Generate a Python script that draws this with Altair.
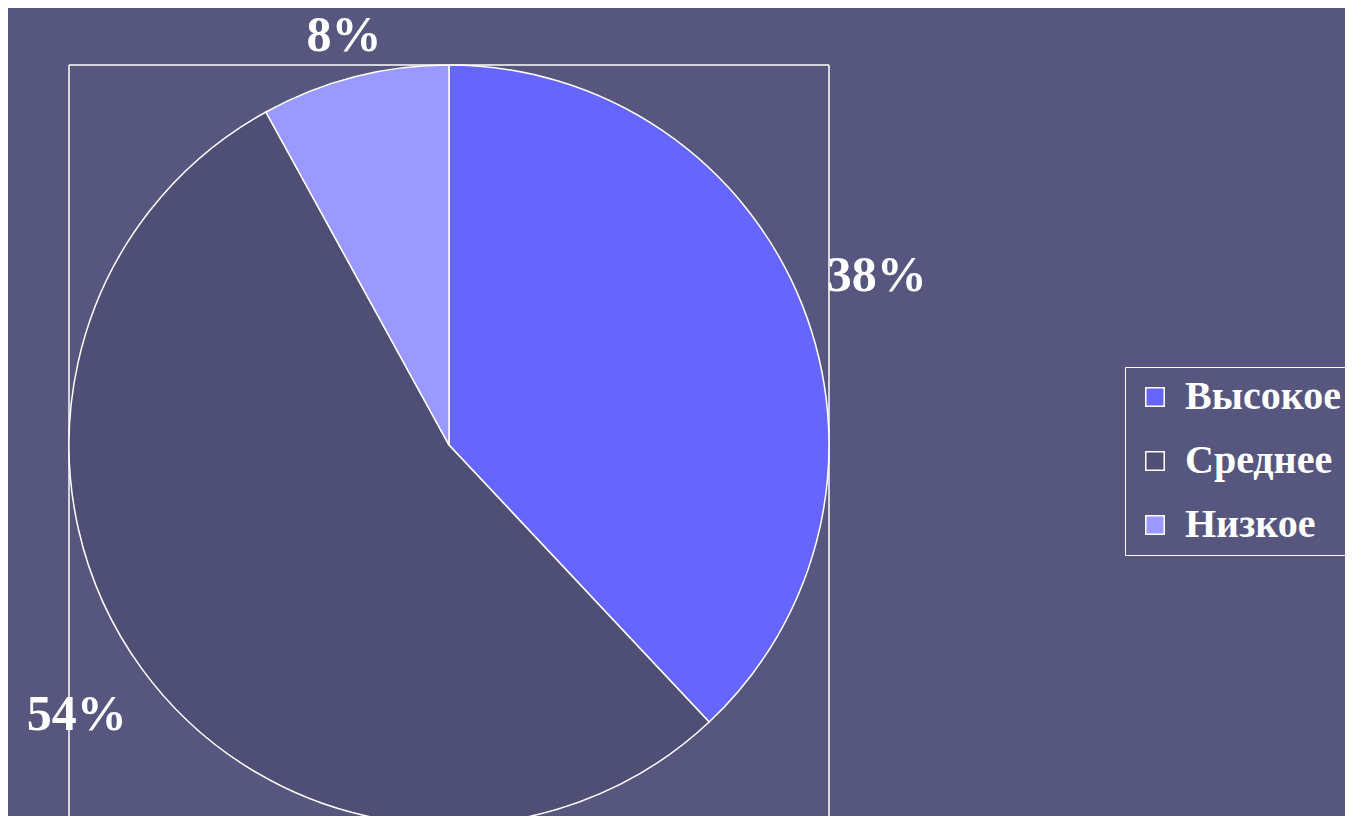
import altair as alt
import pandas as pd

categories = ["Высокое", "Среднее", "Низкое"]
values = [38, 54, 8]
labels = ["38%", "54%", "8%"]
colors = ["#6666ff", "#4f4f76", "#9999ff"]

df = pd.DataFrame({"cat": categories, "value": values, "label": labels,
                   "idx": list(range(len(categories)))})

FONT = "Liberation Serif"

base = alt.Chart(df).encode(
    theta=alt.Theta("value:Q", stack=True),
    order=alt.Order("idx:Q"),
    x=alt.value(380),
    y=alt.value(380),
)

arcs = base.mark_arc(outerRadius=380, stroke="white", strokeWidth=1.5).encode(
    color=alt.Color(
        "cat:N",
        scale=alt.Scale(domain=categories, range=colors),
        legend=alt.Legend(
            title=None, orient="none", legendX=1056, legendY=302,
            direction="vertical", strokeColor="white", fillColor="#56567e",
            padding=10, symbolType="square", symbolSize=340,
            symbolStrokeColor="white", symbolStrokeWidth=1.5,
            labelFont=FONT, labelFontSize=40, labelFontWeight="bold",
            labelColor="white", labelLimit=0, labelOffset=10, rowPadding=24,
        ),
    )
)

text_style = dict(font=FONT, fontSize=50, fontWeight="bold", color="white")
text_top = base.mark_text(radius=422, **text_style).encode(
    text=alt.condition("datum.idx == 2", "label:N", alt.value("")))
text_side = base.mark_text(radius=460, **text_style).encode(
    text=alt.condition("datum.idx != 2", "label:N", alt.value("")))

frame_df = pd.DataFrame({"a": [0]})
frame_left = alt.Chart(frame_df).mark_rule(color="white", strokeWidth=1.5).encode(
    x=alt.value(0), y=alt.value(0), y2=alt.value(770))
frame_right = alt.Chart(frame_df).mark_rule(color="white", strokeWidth=1.5).encode(
    x=alt.value(760), y=alt.value(0), y2=alt.value(770))
frame_top = alt.Chart(frame_df).mark_rule(color="white", strokeWidth=1.5).encode(
    x=alt.value(0), x2=alt.value(760), y=alt.value(0))

chart = alt.layer(frame_left, frame_right, frame_top, arcs, text_top, text_side).properties(
    width=760, height=751,
    autosize=alt.AutoSizeParams(type="none"),
    padding={"left": 61, "top": 57, "right": 516, "bottom": 0},
    background="#56567e",
).configure_view(stroke=None)

chart.save("out.html", embed_options={"renderer": "svg", "actions": False})
